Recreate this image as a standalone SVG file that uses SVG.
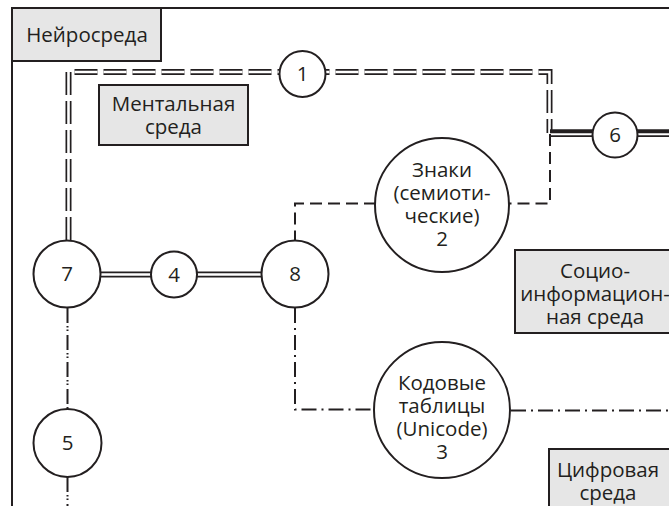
<svg xmlns="http://www.w3.org/2000/svg" width="669" height="506" viewBox="0 0 669 506">
<style>
.t{font-family:"Open Sans","Noto Sans","Liberation Sans",sans-serif;font-size:20.5px;fill:#231f20;text-anchor:middle}
.box{fill:#e6e6e6;stroke:#231f20;stroke-width:2}
.c{fill:#fff;stroke:#231f20;stroke-width:2}
.frame{fill:none;stroke:#231f20;stroke-width:2}
.dd-o{fill:none;stroke:#231f20;stroke-width:6;stroke-dasharray:23 6}
.dd-i{fill:none;stroke:#fff;stroke-width:2.6;stroke-dasharray:23 6}
.ds-o{fill:none;stroke:#231f20;stroke-width:6.2}
.ds-i{fill:none;stroke:#fff;stroke-width:2.6}
.dash{fill:none;stroke:#231f20;stroke-width:2;stroke-dasharray:12 6}
.dashdot{fill:none;stroke:#231f20;stroke-width:2;stroke-dasharray:15 5 2 5}
.dashdotdot{fill:none;stroke:#231f20;stroke-width:2;stroke-dasharray:15 3 1.5 2 1.5 4}
</style>
<g id="frame">
<path class="frame" d="M12 506 V8 H669"/>
</g>
<g id="connectors">
<path class="dd-o" d="M68.5 240 V72 H549.5 V133"/>
<path class="dd-i" d="M68.5 240 V72 H549.5 V133"/>
<line x1="550" y1="131.3" x2="669" y2="131.3" stroke="#231f20" stroke-width="4"/>
<line x1="550" y1="136.2" x2="669" y2="136.2" stroke="#231f20" stroke-width="1.7"/>
<path class="dash" d="M550 134 V203.5 H508"/>
<path class="dash" d="M376 203.5 H295 V240"/>
<path class="ds-o" d="M100 274.5 H262"/>
<path class="ds-i" d="M100 274.5 H262"/>
<path class="dashdot" d="M295 308 V409.5 H374"/>
<path class="dashdot" d="M511 410.5 H669"/>
<path class="dashdotdot" d="M67.5 308 V409"/>
<path class="dashdotdot" d="M67.5 477 V506"/>
</g>
<g id="neuro">
<rect class="box" x="12" y="8" width="149" height="53"/>
<text class="t" x="87" y="42">Нейросреда</text>
</g>
<g id="mental">
<rect class="box" x="99" y="85" width="149" height="60"/>
<text class="t" x="173.5" y="111">Ментальная</text>
<text class="t" x="173.5" y="134">среда</text>
</g>
<g id="socio">
<rect class="box" x="515" y="250" width="170" height="83"/>
<text class="t" x="595" y="278">Социо-</text>
<text class="t" x="595" y="301">информацион-</text>
<text class="t" x="595" y="324">ная среда</text>
</g>
<g id="digital">
<rect class="box" x="549" y="449" width="140" height="70"/>
<text class="t" x="608" y="477">Цифровая</text>
<text class="t" x="608" y="500">среда</text>
</g>
<g id="n1"><circle class="c" cx="302.5" cy="74" r="23"/><text class="t" x="302.5" y="81">1</text></g>
<g id="n6"><circle class="c" cx="615" cy="135" r="22.5"/><text class="t" x="615" y="142">6</text></g>
<g id="n2"><circle class="c" cx="442" cy="205" r="67"/>
<text class="t" x="442" y="177">Знаки</text>
<text class="t" x="442" y="200">(семиоти-</text>
<text class="t" x="442" y="223">ческие)</text>
<text class="t" x="442" y="246">2</text></g>
<g id="n7"><circle class="c" cx="67" cy="274" r="33.5"/><text class="t" x="67" y="281">7</text></g>
<g id="n4"><circle class="c" cx="174" cy="274.5" r="23"/><text class="t" x="174" y="281.5">4</text></g>
<g id="n8"><circle class="c" cx="295" cy="274" r="33.5"/><text class="t" x="295" y="281">8</text></g>
<g id="n3"><circle class="c" cx="442" cy="410" r="68"/>
<text class="t" x="442" y="390">Кодовые</text>
<text class="t" x="442" y="413">таблицы</text>
<text class="t" x="442" y="436">(Unicode)</text>
<text class="t" x="442" y="459">3</text></g>
<g id="n5"><circle class="c" cx="67.5" cy="443" r="34"/><text class="t" x="67.5" y="450">5</text></g>
</svg>
